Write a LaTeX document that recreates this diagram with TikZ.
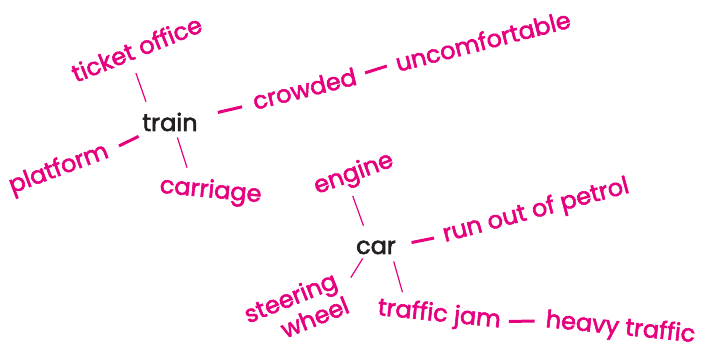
\documentclass[tikz,border=0pt]{standalone}
\usepackage{fontspec}
\newfontfamily\mmfont{Poppins}[FakeBold=2.4]
\usetikzlibrary{shapes}
\definecolor{mm_pink}{RGB}{230, 0, 126}
\definecolor{mm_ink}{RGB}{35, 31, 32}
\tikzstyle{hub}=[text=mm_ink,inner sep=0pt,font=\mmfont\fontsize{24}{30}\selectfont]
\tikzstyle{leaf}=[text=mm_pink,inner sep=0pt,font=\mmfont\fontsize{24}{30}\selectfont]
\tikzstyle{twig}=[draw=mm_pink,line width=1.2pt]
\tikzstyle{dashbar}=[draw=mm_pink,line width=3pt]

\begin{document}
\begin{tikzpicture}[x=1pt,y=-1pt]
    \useasboundingbox (0,0) rectangle (713,350);
    % train
    \node [style=hub, anchor=base] (train) at (170,131) {train};
    \node [style=leaf, anchor=base, rotate=22] (ticket) at (140,57) {ticket office};
    \node [style=leaf, anchor=base west, rotate=14] (crowded) at (255,110) {crowded};
    \node [style=leaf, anchor=base west, rotate=14.4] (uncomf) at (398,72) {uncomfortable};
    \node [style=leaf, anchor=base east, rotate=20.5] (platform) at (110,157) {platform};
    \node [style=leaf, anchor=base, rotate=-5.4] (carriage) at (210,197.5) {carriage};
    % car
    \node [style=hub, anchor=base] (car) at (376,254) {car};
    \node [style=leaf, anchor=base, rotate=20] (engine) at (356,180) {engine};
    \node [style=leaf, anchor=base west, rotate=15] (petrol) at (445,242) {run out of petrol};
    \node [style=leaf, anchor=base east, rotate=22] (steering) at (339,287) {steering};
    \node [style=leaf, anchor=base east, rotate=22] (wheel) at (351,312) {wheel};
    \node [style=leaf, anchor=base west, rotate=-5.8] (jam) at (377,315) {traffic jam};
    \node [style=leaf, anchor=base west, rotate=-5.8] (heavy) at (545,327) {heavy traffic};

    \draw [style=twig, shorten <=11.4pt, shorten >=12.9pt] (train.155) to (ticket.-134);
    \draw [style=dashbar, shorten <=20.6pt, shorten >=11.8pt] (train.10) to (crowded.183);
    \draw [style=dashbar, shorten <=9.5pt, shorten >=9.4pt] (crowded.east) to (uncomf.west);
    \draw [style=dashbar, shorten <=11.3pt, shorten >=12.4pt] (train.204) to (platform.east);
    \draw [style=twig, shorten <=6.3pt, shorten >=9.9pt] (train.-60) to (carriage.150);

    \draw [style=twig, shorten <=15.7pt, shorten >=7.3pt] (car.136) to (engine.-124);
    \draw [style=dashbar, shorten <=15.8pt, shorten >=9.5pt] (car.5) to (petrol.west);
    \draw [style=twig, shorten <=4.8pt, shorten >=17.9pt] (car.213) to (steering.-14);
    \draw [style=twig, shorten <=7.3pt, shorten >=7.2pt] (car.-24) to (jam.161);
    \draw [style=dashbar, shorten <=8pt, shorten >=11pt] (jam.east) to (heavy.west);
\end{tikzpicture}
\end{document}
